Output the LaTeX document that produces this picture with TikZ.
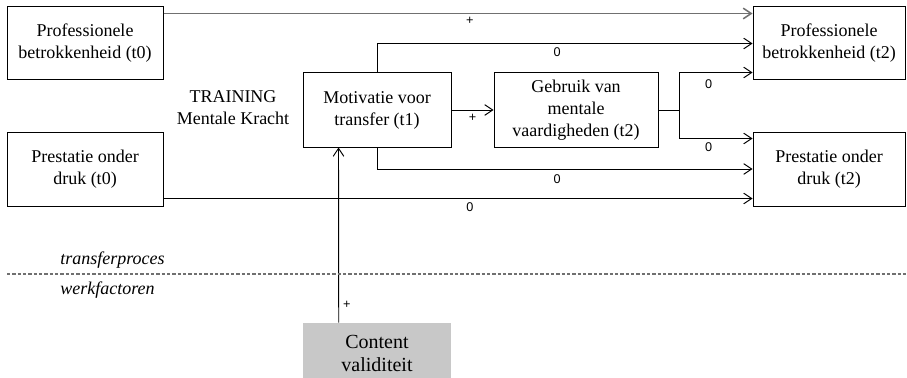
\documentclass[tikz,border=0pt]{standalone}
\usepackage{fontspec}
\setmainfont{Liberation Serif}
\newfontfamily\labelfont{Liberation Sans}
\usetikzlibrary{arrows.meta,calc}
\definecolor{cvgray}{RGB}{200,200,200}
\definecolor{linegray}{RGB}{112,112,112}

\begin{document}
\begin{tikzpicture}[x=0.75pt, y=-0.75pt,
    box/.style={draw, line width=0.75pt, align=center, inner sep=2pt,
      font=\fontsize{13.5}{16.5}\selectfont},
    arr/.style={-{Straight Barb[length=6pt,width=8pt]}, line width=0.7pt},
    lbl/.style={font=\labelfont\fontsize{9.5}{10}\selectfont, inner sep=1pt}]
  \clip (0,0) rectangle (907,378);

  % --- boxes left (t0) ---
  \node[box, minimum width=117pt, minimum height=54.75pt] (pb0) at (85,43.5)
    {Professionele\\betrokkenheid (t0)};
  \node[box, minimum width=117pt, minimum height=55.5pt] (pd0) at (85,169)
    {Prestatie onder\\druk (t0)};

  % training label
  \node[align=center, font=\fontsize{13.5}{16.5}\selectfont] (train) at (233,108)
    {TRAINING\\Mentale Kracht};

  % --- middle boxes ---
  \node[box, minimum width=111pt, minimum height=55.5pt] (mot) at (377,110)
    {Motivatie voor\\transfer (t1)};
  \node[box, minimum width=123pt, minimum height=55.5pt] (geb) at (576,110)
    {Gebruik van\\mentale\\vaardigheden (t2)};

  % --- boxes right (t2) ---
  \node[box, minimum width=114pt, minimum height=54.75pt] (pb2) at (829,43.5)
    {Professionele\\betrokkenheid (t2)};
  \node[box, minimum width=114pt, minimum height=55.5pt] (pd2) at (829,169)
    {Prestatie onder\\druk (t2)};

  % --- work factor ---
  \node[fill=cvgray, minimum width=111pt, minimum height=45pt, align=center,
    font=\fontsize{15}{17.25}\selectfont] (cv) at (377,353)
    {Content\\validiteit};

  % --- arrows ---
  \draw[arr, draw=linegray, line width=1.1pt] ($(pb0.north east)+(0,7)$)
    -- node[lbl, below=1pt, pos=0.52] (l1) {+} ($(pb2.north west)+(0,7)$);
  \draw[arr] (mot.north) |- node[lbl, below=2pt, pos=0.74] (l2) {0} (pb2.west);
  \draw[arr] (mot.east) -- node[lbl, below=2pt] (l3) {+} (geb.west);
  \coordinate (split) at ($(geb.east)+(21,0)$);
  \draw[line width=0.7pt] (geb.east) -- (split);
  \draw[arr] (split) |- node[lbl, below=4pt, pos=0.7] (l4) {0} ($(pb2.south west)+(0,-8)$);
  \draw[arr] (split) |- node[lbl, below=2pt, pos=0.7] (l5) {0} ($(pd2.north west)+(0,7)$);
  \draw[arr] (mot.south) |- node[lbl, below=3pt, pos=0.74] (l6) {0} (pd2.west);
  \draw[arr] ($(pd0.south east)+(0,-8)$)
    -- node[lbl, below=2pt, pos=0.52] (l7) {0} ($(pd2.south west)+(0,-8)$);
  \draw[arr] ($(cv.north west)+(36,0)$)
    -- node[lbl, right=2pt, pos=0.1] (l8) {+} ($(mot.south west)+(36,0)$);

  % --- divider ---
  \draw[linegray, line width=1pt, dash pattern=on 2.5pt off 1.5pt] (7,274) -- (907,274);
  \node[anchor=west, inner sep=0pt, font=\itshape\fontsize{13.5}{16.5}\selectfont]
    (tp) at (60,260) {transferproces};
  \node[anchor=west, inner sep=0pt, font=\itshape\fontsize{13.5}{16.5}\selectfont]
    (wf) at (60,290) {werkfactoren};
\end{tikzpicture}
\end{document}
